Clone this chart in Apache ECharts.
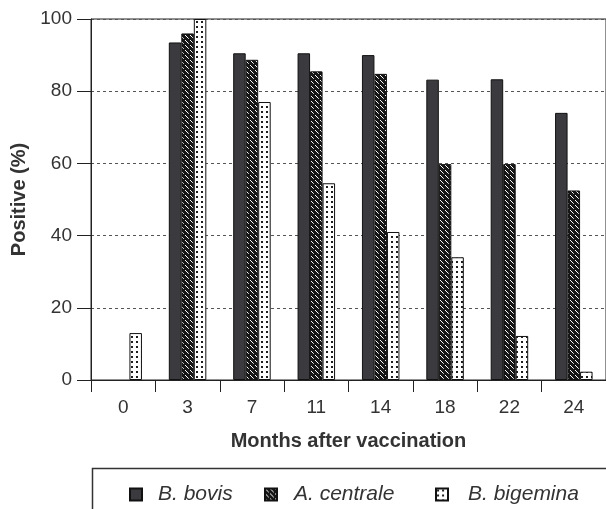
<!DOCTYPE html>
<html>
<head>
<meta charset="utf-8">
<script src="https://cdn.jsdelivr.net/npm/echarts@6/dist/echarts.min.js"></script>
<style>html,body{margin:0;padding:0;background:#fff;}#c{width:606px;height:509px;}</style>
</head>
<body>
<div id="c"></div>
<script>
var categories = ['0', '3', '7', '11', '14', '18', '22', '24'];
var bovis = [0, 93.5, 90.5, 90.5, 90, 83.2, 83.3, 74];
var centrale = [0, 96, 88.7, 85.5, 84.8, 59.8, 59.8, 52.5];
var bigemina = [13, 100, 77, 54.5, 41, 34, 12.2, 2.3];
var yTicks = [0, 20, 40, 60, 80, 100];
var seriesNames = ['B. bovis', 'A. centrale', 'B. bigemina'];

function hatchPattern() {
  var c = document.createElement('canvas');
  c.width = 5; c.height = 5;
  var x = c.getContext('2d');
  x.fillStyle = '#161616'; x.fillRect(0, 0, 5, 5);
  x.fillStyle = '#ffffff';
  for (var i = 0; i < 3; i++) { x.fillRect(i, i, 1, 1); }
  x.fillStyle = '#bdbdbd';
  x.fillRect(3, 3, 1, 1);
  return { image: c, repeat: 'repeat' };
}
function dotPattern() {
  var c = document.createElement('canvas');
  c.width = 5; c.height = 5;
  var x = c.getContext('2d');
  x.fillStyle = '#ffffff'; x.fillRect(0, 0, 5, 5);
  x.fillStyle = '#1e1e1e'; x.fillRect(1, 1, 2, 2);
  return { image: c, repeat: 'repeat' };
}

function toData(arr) {
  return arr.map(function (v) {
    return v === 0 ? { value: v, itemStyle: { borderWidth: 0 } } : v;
  });
}

var chart = echarts.init(document.getElementById('c'), null, { renderer: 'canvas' });
var font = '"Liberation Sans", Arial, Helvetica, sans-serif';
var textColor = '#333';

function legendAt(name, left, pad) {
  return {
    data: [name], left: left, top: 484, padding: 0, itemWidth: 12, itemHeight: 12,
    icon: 'rect',
    textStyle: { fontFamily: font, fontSize: 21, fontStyle: 'italic', color: textColor, padding: [0, 0, 0, pad] }
  };
}

chart.setOption({
  animation: false,
  backgroundColor: '#fff',
  grid: { left: 91, top: 19, width: 521, height: 361, show: true, borderColor: '#222', borderWidth: 1, backgroundColor: 'transparent' },
  legend: [legendAt(seriesNames[0], 129, 11), legendAt(seriesNames[1], 264, 12), legendAt(seriesNames[2], 435, 15)],
  xAxis: {
    type: 'category', data: categories,
    name: 'Months after vaccination', nameLocation: 'middle', nameGap: 51,
    nameTextStyle: { fontFamily: font, fontSize: 20, fontWeight: 'bold', color: textColor },
    axisLine: { lineStyle: { color: '#222', width: 1 } },
    axisTick: { show: true, length: 12, interval: 0, lineStyle: { color: '#222' } },
    axisLabel: { margin: 18, fontFamily: font, fontSize: 19, color: textColor, interval: 0 }
  },
  yAxis: {
    type: 'value', min: 0, max: 100, interval: 20,
    name: 'Positive (%)', nameLocation: 'middle', nameGap: 58,
    nameTextStyle: { fontFamily: font, fontSize: 20, fontWeight: 'bold', color: textColor },
    axisLine: { show: true, lineStyle: { color: '#222', width: 1 } },
    axisTick: { show: true, length: 14, lineStyle: { color: '#222' } },
    axisLabel: { margin: 19, fontFamily: font, fontSize: 19, color: textColor,
      formatter: function (v) { return yTicks.indexOf(v) >= 0 ? String(v) : ''; } },
    splitLine: { show: true, lineStyle: { color: '#555', type: [3, 3], width: 1 } }
  },
  graphic: [{
    type: 'rect', left: 90, top: 466, shape: { width: 600, height: 100 },
    style: { fill: 'none', stroke: '#333', lineWidth: 1.5 }, silent: true
  }],
  series: [
    { name: seriesNames[0], type: 'bar', data: toData(bovis), barWidth: 12.5, barGap: '0%',
      itemStyle: { color: '#3b3b3f', borderColor: '#111', borderWidth: 1 } },
    { name: seriesNames[1], type: 'bar', data: toData(centrale), barWidth: 12.5, barGap: '0%',
      itemStyle: { color: hatchPattern(), borderColor: '#111', borderWidth: 1 } },
    { name: seriesNames[2], type: 'bar', data: toData(bigemina), barWidth: 12.5, barGap: '0%',
      itemStyle: { color: dotPattern(), borderColor: '#111', borderWidth: 1 } }
  ]
});
</script>
</body>
</html>
